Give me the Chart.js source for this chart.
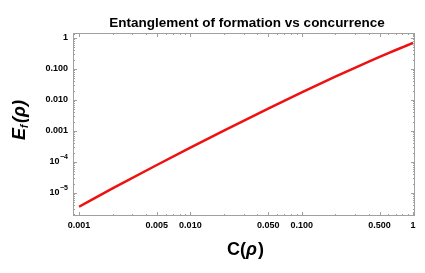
<!DOCTYPE html>
<html>
<head>
<meta charset="utf-8">
<script src="https://cdn.jsdelivr.net/npm/chart.js@4.4.0/dist/chart.umd.min.js"></script>
<style>
  html, body { margin: 0; padding: 0; background: #fff; }
  #wrap { width: 425px; height: 273px; }
</style>
</head>
<body>
<div id="wrap"><canvas id="myChart" width="425" height="273"></canvas></div>
<script>
// concurrence values and entanglement of formation
var concurrence = [0.001, 0.002, 0.005, 0.01, 0.02, 0.05, 0.1, 0.2, 0.3, 0.4, 0.5, 0.6, 0.7, 0.8, 0.9, 0.95, 1];
var formation = [3.6e-6, 1.4e-5, 8.0e-5, 2.9e-4, 1.02e-3, 5.24e-3, 0.0175, 0.0565, 0.1096, 0.1734, 0.2458, 0.325, 0.410, 0.500, 0.595, 0.644, 0.693];

var xTicks = [0.001, 0.005, 0.01, 0.05, 0.1, 0.5, 1];
var xTickLabels = ["0.001", "0.005", "0.010", "0.050", "0.100", "0.500", "1"];
var yTicks = [1e-5, 1e-4, 0.001, 0.01, 0.1, 1];
var yTickLabels = ["10^-5", "10^-4", "0.001", "0.010", "0.100", "1"];

var points = concurrence.map(function(c, i) { return {x: c, y: formation[i]}; });

var frameColor = "#a0a0a0";
var fam = "'Liberation Sans', Arial, sans-serif";

var framePlugin = {
  id: "frame",
  afterDraw: function(chart) {
    var ctx = chart.ctx;
    var a = chart.chartArea;
    var xs = chart.scales.x, ys = chart.scales.y;
    ctx.save();
    ctx.strokeStyle = frameColor;
    ctx.lineWidth = 1;
    ctx.strokeRect(a.left + 0.5, a.top + 0.5, a.right - a.left - 1, a.bottom - a.top - 1);

    // ticks on all four sides, minor ones at 2..9 of each decade
    ctx.beginPath();
    for (var e = -7; e <= 1; e++) {
      for (var m = 1; m <= 9; m++) {
        var v = m * Math.pow(10, e);
        var len = (m === 1) ? 4 : 2;
        if (v >= xs.min && v <= xs.max) {
          var px = Math.round(xs.getPixelForValue(v)) + 0.5;
          var lx = (xTicks.indexOf(+v.toPrecision(3)) >= 0) ? 4 : len;
          ctx.moveTo(px, a.bottom); ctx.lineTo(px, a.bottom - lx);
          ctx.moveTo(px, a.top); ctx.lineTo(px, a.top + lx);
        }
        if (v >= ys.min && v <= ys.max) {
          var py = Math.round(ys.getPixelForValue(v)) + 0.5;
          ctx.moveTo(a.left, py); ctx.lineTo(a.left + len, py);
          ctx.moveTo(a.right, py); ctx.lineTo(a.right - len, py);
        }
      }
    }
    ctx.stroke();

    ctx.fillStyle = "#000";
    // power labels on the y axis
    yTickLabels.forEach(function(lab, i) {
      if (lab.indexOf("^") < 0) return;
      var parts = lab.split("^");
      var py = ys.getPixelForValue(yTicks[i]);
      ctx.font = "bold 7px " + fam;
      ctx.textAlign = "right";
      ctx.textBaseline = "middle";
      var sup = parts[1].replace("-", "\u2212");
      var w = ctx.measureText(sup).width;
      var rx = a.left - 5;
      ctx.fillText(sup, rx, py - 5);
      ctx.font = "bold 9px " + fam;
      ctx.fillText(parts[0], rx - w - 0.5, py);
    });

    // title and axis titles
    ctx.textAlign = "center";
    ctx.textBaseline = "middle";
    ctx.font = "bold 13.5px " + fam;
    ctx.fillText("Entanglement of formation vs concurrence", (a.left + a.right) / 2 + 3, 23);

    ctx.font = "bold 18px " + fam;
    ctx.textAlign = "right";
    ctx.fillText("C(", 246, 250);
    ctx.textAlign = "left";
    ctx.font = "italic bold 18px " + fam;
    ctx.fillText("\u03C1", 246, 250);
    var rw = ctx.measureText("\u03C1").width;
    ctx.font = "bold 18px " + fam;
    ctx.fillText(")", 247 + rw, 250);

    ctx.translate(20, 123);
    ctx.rotate(-Math.PI / 2);
    ctx.font = "italic bold 18px " + fam;
    ctx.textAlign = "right";
    ctx.fillText("E", -5, 0);
    ctx.font = "italic bold 10px " + fam;
    ctx.textAlign = "left";
    ctx.fillText("f", -5, 5);
    ctx.font = "italic bold 18px " + fam;
    ctx.fillText("(\u03C1)", 0, 0);
    ctx.restore();
  }
};

function printChart() {
  var ctx = document.getElementById("myChart").getContext("2d");
  var myChart = new Chart(ctx, {
    type: "line",
    data: {
      datasets: [{
        data: points,
        borderColor: "#ee1111",
        borderWidth: 2.5,
        pointRadius: 0,
        fill: false,
        cubicInterpolationMode: "monotone"
      }]
    },
    options: {
      responsive: false,
      animation: false,
      layout: { padding: { top: 33, right: 10, left: 0, bottom: 0 } },
      plugins: { legend: { display: false }, tooltip: { enabled: false } },
      scales: {
        x: {
          type: "logarithmic",
          min: 0.000883,
          max: 1.04,
          grid: { display: false, drawTicks: false },
          border: { display: false },
          afterBuildTicks: function(scale) {
            scale.ticks = xTicks.map(function(v) { return {value: v}; });
          },
          afterFit: function(scale) { scale.height = 57; },
          ticks: {
            autoSkip: false,
            maxRotation: 0,
            padding: 4,
            color: "#000",
            font: { family: fam, size: 9, weight: "bold" },
            callback: function(v) {
              var i = xTicks.indexOf(v);
              return i >= 0 ? xTickLabels[i] : "";
            }
          }
        },
        y: {
          type: "logarithmic",
          min: 1.81e-6,
          max: 1.45,
          grid: { display: false, drawTicks: false },
          border: { display: false },
          afterBuildTicks: function(scale) {
            scale.ticks = yTicks.map(function(v) { return {value: v}; });
          },
          afterFit: function(scale) { scale.width = 73; },
          ticks: {
            autoSkip: false,
            padding: 5,
            color: "#000",
            font: { family: fam, size: 9, weight: "bold" },
            callback: function(v) {
              var i = yTicks.indexOf(v);
              if (i < 0) return "";
              return yTickLabels[i].indexOf("^") >= 0 ? "" : yTickLabels[i];
            }
          }
        }
      }
    },
    plugins: [framePlugin]
  });
}

printChart();
</script>
</body>
</html>
